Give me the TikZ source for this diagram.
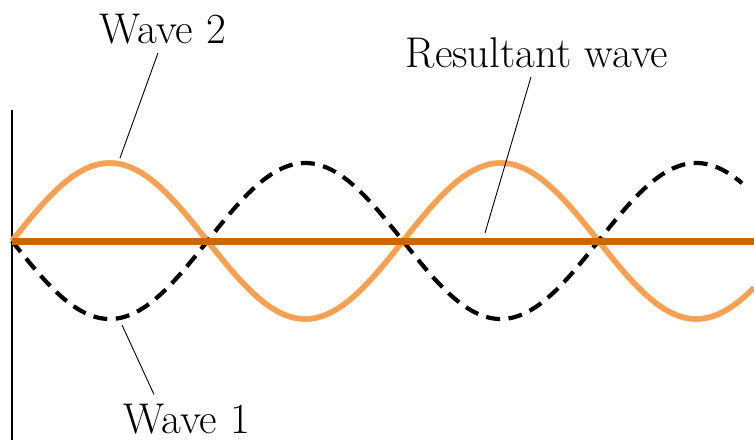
\documentclass[tikz,border=0pt]{standalone}
\usepackage{xcolor}
\usepackage{tikz}
\usetikzlibrary{calc}
\definecolor{resorange}{RGB}{204,102,0}
\definecolor{lightorange}{RGB}{245,160,86}
\definecolor{wavebrim}{RGB}{236,196,120}

\begin{document}
\begin{tikzpicture}[x=1pt, y=-1pt,
  lbl/.style={font=\fontsize{43}{50}\selectfont, anchor=base, inner xsep=0pt, inner ysep=9pt},
  leader/.style={line width=0.9pt, black},
  wavetwo/.style={line width=5pt, lightorange},
  waveone/.style={line width=4.2pt, black, dash pattern=on 14pt off 8.5pt}
]
\useasboundingbox (0,0) rectangle (754,440);

% axis and resultant
\draw[line width=2pt] (12,110) -- (12,440);
\draw[wavebrim, line width=6pt, domain=12:754, samples=150, smooth]
  plot (\x, {241-78*sin(((\x-12)/391)*360)});
\draw[wavetwo, domain=12:754, samples=150, smooth]
  plot (\x, {241-78*sin(((\x-12)/391)*360)});
\draw[waveone, domain=12:742, samples=150, smooth]
  plot (\x, {241+78*sin(((\x-12)/391)*360)});
\draw[resorange, line width=7pt] (12,241) -- (754,241);

% labels
\node[lbl] (wtwo) at (163,43) {Wave 2};
\node[lbl] (result) at (537,67) {Resultant wave};
\node[lbl] (wone) at (187,433) {Wave 1};

\coordinate (wtwotip) at (120,158);
\coordinate (resulttip) at (485,233);
\coordinate (wonetip) at (122,325);

\draw[leader] ($(wtwo.south)+(-5,0)$) -- (wtwotip);
\draw[leader] ($(result.south)+(-6,0)$) -- (resulttip);
\draw[leader] ($(wone.north)+(-33,0)$) -- (wonetip);
\end{tikzpicture}
\end{document}
